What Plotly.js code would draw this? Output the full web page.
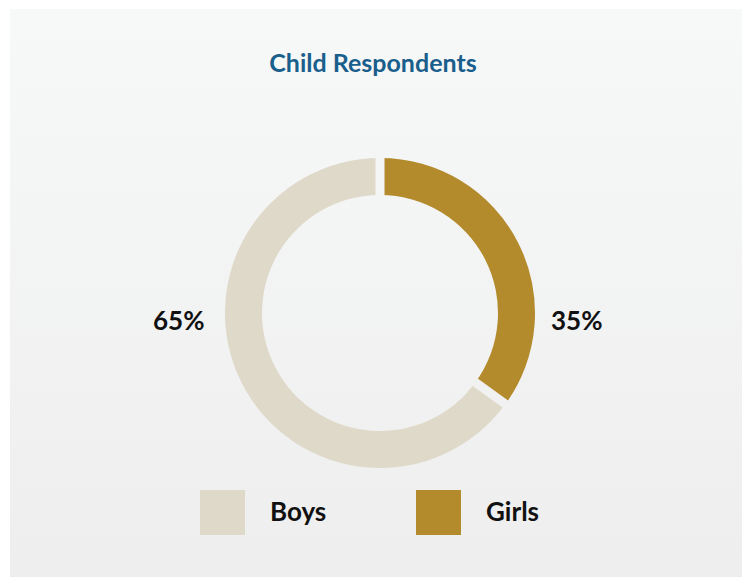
<!DOCTYPE html>
<html>
<head>
<meta charset="utf-8">
<script src="https://cdn.plot.ly/plotly-3.0.1.min.js"></script>
<style>
  html, body { margin:0; padding:0; background:#ffffff; width:742px; height:577px; overflow:hidden; }
  #card { position:absolute; left:10px; top:9px; width:732px; height:568px;
          background: linear-gradient(to bottom, #f7f8f8 0%, #eeeeee 100%); }
  #chart { position:absolute; left:0; top:0; width:742px; height:577px; }
</style>
</head>
<body>
<div id="card"></div>
<div id="chart"></div>
<script>
const categories = ['Boys', 'Girls'];
const values = [65, 35];
const colors = ['#dfd9c9', '#b38b2d'];
const chartTitle = 'Child Respondents';

const W = 742, H = 577;
const px = x => x / W;
const py = y => 1 - y / H;

const cx = 380, cy = 313, R = 155, Rin = 118;
const total = values.reduce((a, b) => a + b, 0);
// Girls starts at 12 o'clock going clockwise; Boys fills the rest
const rot = 360 * values[1] / total;

const trace = {
  type: 'pie',
  labels: categories,
  values: values,
  sort: false,
  direction: 'clockwise',
  rotation: rot,
  hole: Rin / R,
  textinfo: 'none',
  hoverinfo: 'label+percent',
  marker: { colors: colors, line: { width: 0 } },
  domain: { x: [px(cx - R), px(cx + R)], y: [py(cy + R), py(cy - R)] },
  showlegend: false
};

const pct = values.map(v => Math.round(v / total * 100) + '%');

const labelFont = { family: 'Lato, sans-serif', size: 26, color: '#111111', weight: 'bold' };

const annotations = [
  { x: px(178), y: py(320), text: pct[0], xanchor: 'center', yanchor: 'middle' },
  { x: px(576), y: py(320), text: pct[1], xanchor: 'center', yanchor: 'middle' }
].map(a => Object.assign(a, { xref: 'paper', yref: 'paper', showarrow: false, font: labelFont }));

const shapes = [];

// background colour of the card at a given pixel row (matches the CSS gradient)
function bgAt(y) {
  const t = Math.min(1, Math.max(0, (y - 9) / 568));
  const c0 = [0xf7, 0xf8, 0xf8], c1 = [0xee, 0xee, 0xee];
  const c = c0.map((v, i) => Math.round(v + (c1[i] - v) * t));
  return 'rgb(' + c.join(',') + ')';
}

// slice separators (gaps) at slice boundaries, derived from the values
[0, rot].forEach(deg => {
  const a = deg * Math.PI / 180;
  const x0 = cx + (Rin - 1) * Math.sin(a), y0 = cy - (Rin - 1) * Math.cos(a);
  const x1 = cx + (R + 1) * Math.sin(a), y1 = cy - (R + 1) * Math.cos(a);
  shapes.push({ type: 'line', xref: 'paper', yref: 'paper',
    x0: px(x0), y0: py(y0), x1: px(x1), y1: py(y1),
    line: { color: bgAt((y0 + y1) / 2), width: 9 } });
});

const legendX = [200, 416];
categories.forEach((c, i) => {
  shapes.push({ type: 'rect', xref: 'paper', yref: 'paper',
    x0: px(legendX[i]), x1: px(legendX[i] + 45), y0: py(535), y1: py(490),
    fillcolor: colors[i], line: { width: 0 } });
  annotations.push({ xref: 'paper', yref: 'paper', showarrow: false,
    x: px(legendX[i] + 68), y: py(511), xanchor: 'left', yanchor: 'middle', text: c,
    font: labelFont });
});

const layout = {
  width: W, height: H,
  margin: { l: 0, r: 0, t: 0, b: 0 },
  paper_bgcolor: 'rgba(0,0,0,0)',
  plot_bgcolor: 'rgba(0,0,0,0)',
  title: { text: chartTitle, x: px(373), xanchor: 'center', y: py(63), yanchor: 'middle',
           xref: 'paper', yref: 'container',
           font: { family: 'Lato, sans-serif', size: 25, color: '#1a5e8c', weight: 'bold' } },
  annotations: annotations,
  shapes: shapes,
  showlegend: false
};

Plotly.newPlot('chart', [trace], layout, { displayModeBar: false, staticPlot: true });
</script>
</body>
</html>
